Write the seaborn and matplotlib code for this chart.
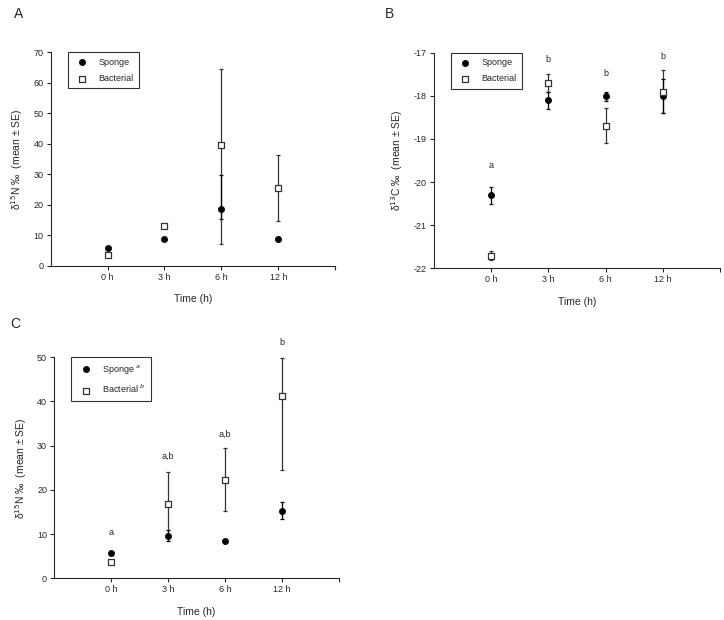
import numpy as np
import matplotlib
matplotlib.use("Agg")
import matplotlib.pyplot as plt
import seaborn as sns

# time points (categories)
times = ["0 h", "3 h", "6 h", "12 h"]

# Panel A - d15N
a_sponge = [5.7, 8.6, 18.5, 8.8]
a_sponge_lo = [0.3, 0.3, 3.3, 0.6]
a_sponge_hi = [0.3, 0.3, 11.4, 0.6]
a_bact = [3.6, 13.0, 39.6, 25.4]
a_bact_lo = [0.4, 0.4, 32.4, 10.6]
a_bact_hi = [0.4, 0.4, 24.8, 10.8]

# Panel B - d13C
b_sponge = [-20.31, -18.1, -18.01, -18.0]
b_sponge_err = [0.2, 0.2, 0.1, 0.4]
b_bact = [-21.71, -17.7, -18.69, -17.9]
b_bact_err = [0.1, 0.2, 0.4, 0.5]
b_letters = ["a", "b", "b", "b"]
b_letter_y = [-19.62, -17.15, -17.48, -17.08]

# Panel C - d15N
c_sponge = [5.66, 9.65, 8.4, 15.3]
c_sponge_lo = [0.3, 1.25, 0.3, 1.8]
c_sponge_hi = [0.3, 1.25, 0.3, 2.0]
c_bact = [3.6, 16.7, 22.2, 41.3]
c_bact_lo = [0.4, 7.2, 7.0, 16.7]
c_bact_hi = [0.4, 7.3, 7.2, 8.6]
c_letters = ["a", "a,b", "a,b", "b"]
c_letter_y = [10.3, 27.7, 32.5, 53.3]

sns.set_style("ticks")
plt.rcParams['font.family'] = ['Liberation Sans', 'DejaVu Sans']
plt.rcParams['axes.unicode_minus'] = False

fig = plt.figure(figsize=(7.24, 6.2), dpi=100)
pos = np.arange(1, 5)


def draw_panel(ax, sponge, s_err, bact, b_err, ylim, yticks, ylabel, labels):
    ax.errorbar(pos, bact, yerr=b_err, fmt='none', ecolor='#333333',
                elinewidth=0.9, capsize=1.6, capthick=0.9, zorder=2)
    ax.errorbar(pos, sponge, yerr=s_err, fmt='none', ecolor='black',
                elinewidth=0.9, capsize=1.6, capthick=0.9, zorder=2)
    sns.scatterplot(x=pos, y=sponge, marker='o', color='black', s=20,
                    edgecolor='black', linewidth=0.5, label=labels[0], ax=ax, zorder=3)
    sns.scatterplot(x=pos, y=bact, marker='s', color='white', s=18,
                    edgecolor='#333333', linewidth=0.9, label=labels[1], ax=ax, zorder=4)
    ax.set_xlim(0, 5)
    ax.set_ylim(*ylim)
    ax.set_yticks(yticks)
    ax.set_xticks([1, 2, 3, 4, 5])
    ax.set_xticklabels(times + [""])
    ax.tick_params(axis='both', labelsize=6.5, length=3, width=0.8, pad=2)
    for sp in ["left", "bottom"]:
        ax.spines[sp].set_linewidth(0.8)
    sns.despine(ax=ax)
    ax.set_xlabel("Time (h)", fontsize=7.5, labelpad=9)
    ax.set_ylabel(ylabel, fontsize=7.5, labelpad=6)
    leg = ax.legend(loc='upper left', bbox_to_anchor=(0.06, 1.0), fontsize=6.5,
                    frameon=True, fancybox=False, edgecolor='black',
                    handletextpad=0.8, borderpad=0.6, labelspacing=0.8,
                    borderaxespad=0.0)
    leg.get_frame().set_linewidth(0.8)


axA = fig.add_axes([0.070, 0.5715, 0.393, 0.344])
draw_panel(axA, a_sponge, [a_sponge_lo, a_sponge_hi], a_bact, [a_bact_lo, a_bact_hi],
           (0, 70), range(0, 71, 10), "δ$^{15}$N ‰  (mean ± SE)", ["Sponge", "Bacterial"])

axB = fig.add_axes([0.599, 0.5673, 0.396, 0.3477])
draw_panel(axB, b_sponge, b_sponge_err, b_bact, b_bact_err,
           (-22, -17), range(-22, -16), "δ$^{13}$C ‰  (mean ± SE)", ["Sponge", "Bacterial"])
for x, y, t in zip(pos, b_letter_y, b_letters):
    axB.text(x, y, t, ha='center', va='center', fontsize=6.5, clip_on=False)

axC = fig.add_axes([0.0746, 0.0673, 0.394, 0.3564])
draw_panel(axC, c_sponge, [c_sponge_lo, c_sponge_hi], c_bact, [c_bact_lo, c_bact_hi],
           (0, 50), range(0, 51, 10), "δ$^{15}$N ‰  (mean ± SE)",
           ["Sponge $^{a}$", "Bacterial $^{b}$"])
for x, y, t in zip(pos, c_letter_y, c_letters):
    axC.text(x, y, t, ha='center', va='center', fontsize=6.5, clip_on=False)

fig.text(14 / 724, 1 - 18 / 620, "A", fontsize=10)
fig.text(385 / 724, 1 - 18 / 620, "B", fontsize=10)
fig.text(10 / 724, 1 - 328 / 620, "C", fontsize=10)

fig.savefig("out.png", dpi=100)
